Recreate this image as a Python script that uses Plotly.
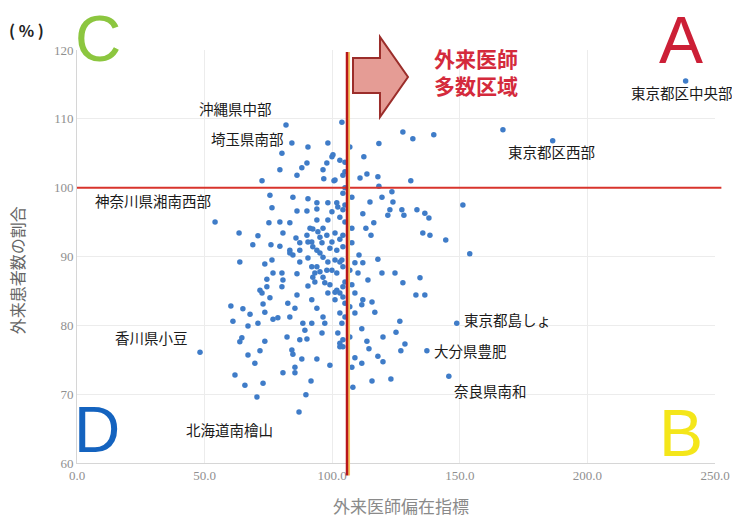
import plotly.graph_objects as go

# 外来医師偏在指標 (x) and 外来患者数の割合 (y, %) for each secondary medical area
x_index = [
    81.9, 103.8, 80.3, 90.5, 98.3, 99.9, 103.0, 97.9, 90.1, 88.1, 79.5, 96.4, 105.0, 86.2, 96.7,
    100.7, 104.2, 72.5, 84.2, 75.6, 84.6, 90.5, 94.0, 98.3, 102.2, 105.0, 94.0, 99.9, 76.4, 86.2,
    90.1, 54.1, 75.2, 79.5, 83.4, 94.0, 98.3, 103.0, 96.4, 92.4, 90.1, 101.1, 104.2, 63.5, 70.9,
    80.7, 85.8, 95.2, 92.0, 68.9, 76.0, 79.5, 83.4, 87.3, 94.0, 99.1, 104.2, 84.6, 90.5, 96.4,
    101.1, 63.8, 73.6, 76.4, 87.3, 94.0, 97.9, 104.2, 93.2, 101.8, 76.8, 80.3, 86.2, 74.4, 80.7,
    90.5, 93.2, 97.1, 104.2, 71.7, 74.4, 80.3, 86.2, 92.0, 98.3, 101.1, 104.2, 75.6, 72.5, 72.9,
    82.6, 85.4, 94.0, 103.0, 60.3, 65.0, 67.8, 73.6, 76.8, 78.7, 83.4, 61.1, 67.0, 70.9, 88.5,
    92.0, 96.4, 97.1, 89.3, 96.0, 82.3, 90.1, 87.3, 73.6, 64.6, 63.8, 103.0, 104.2, 48.2, 71.7,
    67.0, 84.2, 84.6, 88.1, 94.0, 99.1, 69.7, 85.4, 85.4, 61.9, 80.7, 65.8, 72.9, 91.7, 70.5,
    89.7, 87.0,
    127.7, 131.6, 139.8, 118.3, 112.4, 106.9, 105.0, 113.6, 110.9, 117.9, 130.8, 118.3, 107.7, 119.5, 123.4,
    114.8, 123.8, 101.8, 151.2, 122.6, 127.3, 128.1, 133.2, 136.3, 137.9, 112.0, 121.8, 116.3, 113.2, 107.7,
    115.2, 135.5, 138.3, 144.5, 153.9, 107.7, 110.5, 117.9, 108.9, 112.0, 106.9, 110.1, 119.5, 124.6, 114.0,
    127.7, 134.4, 107.7, 132.8, 136.3, 108.9, 112.0, 115.6, 111.6, 116.7, 106.9, 108.9, 126.5, 111.6, 125.0,
    119.9, 113.6, 128.5, 126.9, 114.4, 117.9, 119.9, 107.7, 111.6, 115.6, 123.0, 108.1, 103.0, 106.9, 148.8,
    137.1, 145.7, 100.3, 101.1, 105.0, 104.2, 105.0, 103.8, 105.0, 103.0, 101.1, 105.0, 102.2, 108.9,
    166.9, 186.4, 238.5,
    91.3, 94.4, 97.9, 99.9, 96.0, 92.4, 101.8, 95.2, 98.3, 92.0, 95.2, 99.9, 103.0, 96.4, 92.4,
    90.5, 87.3, 103.0, 101.8, 83.4, 99.1, 104.2, 105.0, 103.8, 104.2,
]
y_share = [
    109.1, 109.5, 105.0, 105.9, 106.5, 104.5, 104.0, 103.6, 103.6, 102.9, 102.6, 102.6, 102.3, 101.8, 101.3,
    101.0, 101.8, 101.0, 106.5, 98.9, 98.6, 98.4, 97.8, 97.8, 97.2, 97.5, 96.9, 96.5, 97.1, 96.6,
    96.6, 95.0, 94.9, 95.0, 94.9, 95.3, 95.3, 95.7, 94.1, 94.0, 93.1, 93.4, 93.1, 93.4, 93.0,
    93.4, 92.7, 92.8, 92.1, 91.7, 91.7, 91.5, 90.9, 90.9, 90.9, 91.2, 91.4, 90.2, 89.8, 89.9,
    89.5, 89.2, 88.9, 89.5, 89.2, 88.5, 88.0, 88.5, 87.6, 87.6, 87.6, 87.6, 87.5, 86.7, 86.6,
    85.7, 86.3, 86.2, 85.6, 85.1, 85.6, 85.6, 84.4, 83.7, 84.7, 84.8, 84.1, 84.0, 84.7, 83.1,
    83.2, 82.5, 82.5, 81.8, 82.8, 82.4, 81.6, 81.9, 80.9, 81.1, 81.2, 80.6, 79.9, 80.3, 80.3,
    80.3, 81.2, 80.3, 79.3, 78.9, 78.3, 78.0, 77.9, 77.7, 78.2, 77.6, 77.4, 76.9, 76.1, 76.3,
    75.7, 76.4, 75.8, 75.1, 75.1, 74.2, 74.5, 73.9, 73.1, 72.8, 73.1, 71.3, 71.6, 71.9, 69.6,
    69.9, 67.4,
    108.1, 107.1, 107.7, 106.4, 104.5, 105.9, 103.7, 102.0, 101.4, 101.6, 101.0, 100.2, 98.6, 98.6, 99.4,
    97.9, 97.9, 97.8, 97.5, 96.8, 96.8, 96.0, 96.8, 96.3, 95.6, 96.2, 96.0, 94.9, 94.1, 94.1,
    93.1, 93.4, 93.1, 92.4, 90.4, 92.0, 90.2, 89.6, 89.1, 89.1, 88.0, 87.6, 87.6, 87.6, 86.6,
    86.2, 86.9, 85.9, 84.4, 84.4, 84.7, 83.7, 83.4, 83.0, 81.9, 82.7, 81.8, 80.6, 79.5, 79.0,
    78.3, 77.7, 77.3, 76.3, 76.6, 75.5, 74.7, 73.9, 74.5, 71.9, 72.2, 71.0, 76.9, 78.3, 80.3,
    76.3, 72.6, 104.8, 101.1, 100.0, 96.8, 95.0, 89.5, 86.3, 84.7, 83.7, 81.2, 78.9, 75.3,
    108.4, 106.8, 115.5,
    94.1, 93.6, 93.1, 92.1, 92.0, 91.4, 90.9, 90.5, 89.2, 88.5, 87.8, 88.0, 89.2, 87.0, 87.0,
    92.1, 92.0, 92.5, 85.1, 90.5, 85.9, 99.2, 83.2, 80.3, 77.9,
]

# Reference lines and axis ticks
x_threshold = 105.8
y_threshold = 100
x_ticks = [0, 50, 100, 150, 200, 250]
y_ticks = [60, 70, 80, 90, 100, 110, 120]

# Named areas: label text and where each label starts
area_names = ["沖縄県中部", "埼玉県南部", "東京都区中央部", "東京都区西部", "神奈川県湘南西部",
              "香川県小豆", "北海道南檜山", "東京都島しょ", "大分県豊肥", "奈良県南和"]
area_label_x = [47.0, 51.7, 216.2, 168.0, 6.3, 14.1, 41.9, 150.8, 139.1, 146.9]
area_label_y = [111.5, 107.1, 113.8, 105.3, 98.1, 78.2, 64.9, 80.9, 76.4, 70.6]

JP = "Noto Sans CJK JP"

fig = go.Figure()
fig.add_trace(go.Scatter(
    x=x_index, y=y_share, mode="markers",
    marker=dict(size=5.5, color="#3f7cc8", line=dict(width=0)),
    cliponaxis=False, showlegend=False, hoverinfo="x+y",
))

shapes = [
    # horizontal line at 100%
    dict(type="line", xref="paper", yref="y", x0=0, x1=1.01, y0=y_threshold, y1=y_threshold,
         line=dict(color="#d8342c", width=2), layer="above"),
    # warm edge along the right side of the vertical line
    dict(type="line", xref="x", yref="paper", x0=x_threshold + 0.8, x1=x_threshold + 0.8,
         y0=-0.03, y1=0.995, line=dict(color="#f4c35a", width=2), layer="above"),
    # vertical line at the threshold index
    dict(type="line", xref="x", yref="paper", x0=x_threshold, x1=x_threshold, y0=-0.03, y1=0.995,
         line=dict(color="#b8161b", width=2.5), layer="above"),
    # block arrow pointing right
    dict(type="path", xref="paper", yref="paper",
         path="M 0.4326 0.9806 L 0.4749 0.9806 L 0.4749 1.0315 L 0.5188 0.9346 "
              "L 0.4749 0.8378 L 0.4749 0.8959 L 0.4326 0.8959 Z",
         fillcolor="#e59c95", line=dict(color="#9b2d2a", width=2), layer="above"),
]

annotations = []
for name, lx, ly in zip(area_names, area_label_x, area_label_y):
    annotations.append(dict(x=lx, y=ly, xref="x", yref="y", text=name, showarrow=False,
                            xanchor="left", yanchor="middle",
                            font=dict(family=JP, size=14.5, color="#1a1a1a")))

# Quadrant letters
for letter, px, py, ya, size, col in [("A", 0.947, 1.119, "top", 66, "#cc1f36"),
                                      ("C", 0.033, 1.119, "top", 64, "#8cc63f"),
                                      ("D", 0.032, 0.079, "middle", 64, "#1463bf"),
                                      ("B", 0.947, 0.072, "middle", 66, "#f4e61a")]:
    annotations.append(dict(x=px, y=py, xref="paper", yref="paper", text=letter, showarrow=False,
                            xanchor="center", yanchor=ya,
                            font=dict(family="Liberation Sans", size=size, color=col)))

annotations += [
    dict(x=0.625, y=0.949, xref="paper", yref="paper", text="<b>外来医師<br>多数区域</b>",
         showarrow=False, xanchor="center", yanchor="middle", align="left",
         font=dict(family=JP, size=21, color="#d42a3c")),
    dict(x=-0.079, y=1.048, xref="paper", yref="paper", text="<b>( % )</b>", showarrow=False,
         xanchor="center", yanchor="middle",
         font=dict(family=JP, size=16, color="#222")),
    dict(x=-0.094, y=0.467, xref="paper", yref="paper", text="外来患者数の割合", showarrow=False,
         xanchor="center", yanchor="middle", textangle=-90,
         font=dict(family=JP, size=16, color="#666666")),
    dict(x=0.508, y=-0.104, xref="paper", yref="paper", text="外来医師偏在指標", showarrow=False,
         xanchor="center", yanchor="middle",
         font=dict(family=JP, size=17, color="#8a8a8a")),
]

fig.update_layout(
    width=732, height=519,
    margin=dict(l=77, r=17, t=50, b=56),
    paper_bgcolor="white", plot_bgcolor="white",
    shapes=shapes, annotations=annotations,
    xaxis=dict(range=[0, 250], tickvals=x_ticks, tickformat=".1f", showgrid=True,
               gridcolor="#ececec", zeroline=False, showline=True, linecolor="#d6d6d6",
               ticks="", automargin=False,
               tickfont=dict(family="Liberation Serif", size=13, color="#8f8f8f")),
    yaxis=dict(range=[60, 120], tickvals=y_ticks, showgrid=True, gridcolor="#ececec",
               zeroline=False, showline=True, linecolor="#d6d6d6", ticks="", automargin=False,
               tickfont=dict(family="Liberation Serif", size=13, color="#8f8f8f")),
)

fig.write_html("out.html")
